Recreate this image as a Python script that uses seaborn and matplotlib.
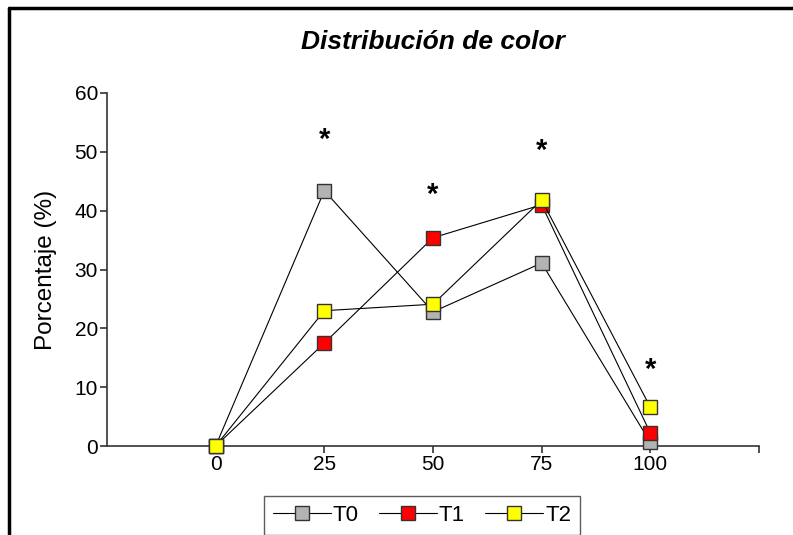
import numpy as np
import pandas as pd
import matplotlib
matplotlib.use("Agg")
import matplotlib.pyplot as plt
from matplotlib.lines import Line2D
import seaborn as sns

# Data
color_level = [0, 25, 50, 75, 100]
t0 = [0.0, 43.4, 22.8, 31.1, 0.6]
t1 = [0.0, 17.5, 35.4, 41.0, 2.2]
t2 = [0.0, 23.0, 24.1, 41.8, 6.6]
series_names = ["T0", "T1", "T2"]
series_colors = ["#b3b3b3", "#ff0000", "#ffff00"]
star_x = [25, 50, 75, 100]
star_y = [52.0, 42.6, 50.1, 12.9]

df = pd.DataFrame({
    "color": color_level * 3,
    "pct": t0 + t1 + t2,
    "group": np.repeat(series_names, len(color_level)),
})

sns.set_style("ticks")
plt.rcParams['font.family'] = ['Liberation Sans', 'DejaVu Sans']
plt.rcParams['text.color'] = 'black'
plt.rcParams['xtick.labelcolor'] = 'black'
plt.rcParams['ytick.labelcolor'] = 'black'
plt.rcParams['axes.labelcolor'] = 'black'

fig = plt.figure(figsize=(7.93, 5.35), dpi=100)
ax = fig.add_axes([107 / 793, 1 - 446 / 535, (759 - 107) / 793, (446 - 93) / 535])

for name, col in zip(series_names, series_colors):
    sub = df[df["group"] == name]
    sns.lineplot(data=sub, x="color", y="pct", ax=ax, color="black", linewidth=0.8,
                 marker="s", markersize=9.5, markerfacecolor=col,
                 markeredgecolor="#333333", markeredgewidth=1.0,
                 label=name, clip_on=False, zorder=3)

for sx, sy in zip(star_x, star_y):
    ax.text(sx, sy, "*", ha="center", va="center", fontsize=21, fontweight="bold")

ax.set_xlim(-25, 125)
ax.set_ylim(0, 60)
ax.set_xticks([0, 25, 50, 75, 100, 125])
ax.set_xticklabels(["0", "25", "50", "75", "100", ""])
ax.set_yticks(range(0, 61, 10))
ax.tick_params(axis="both", labelsize=15, length=5, width=1.2, color="#333333", pad=1.5)
for side in ["top", "right"]:
    ax.spines[side].set_visible(False)
for side in ["left", "bottom"]:
    ax.spines[side].set_color("#333333")
    ax.spines[side].set_linewidth(1.2)

ax.set_xlabel("")
ax.set_ylabel("Porcentaje (%)", fontsize=17.5, labelpad=13)
ax.set_title("Distribución de color", fontsize=19, fontweight="bold", style="italic", pad=32)

leg = ax.legend(loc="upper left", bbox_to_anchor=(264 / 793, 1 - 496 / 535),
                bbox_transform=fig.transFigure, ncol=3, fontsize=16, frameon=True,
                fancybox=False, handlelength=2.6, handletextpad=0.1, columnspacing=0.9,
                borderpad=0.4, borderaxespad=0)
leg.get_frame().set_edgecolor("#333333")
leg.get_frame().set_linewidth(1.0)

# border of the cropped frame: top and left lines
fig.add_artist(Line2D([9 / 793, 1], [1 - 8 / 535, 1 - 8 / 535], transform=fig.transFigure,
                      color="black", linewidth=2.5))
fig.add_artist(Line2D([9 / 793, 9 / 793], [0, 1 - 8 / 535], transform=fig.transFigure,
                      color="black", linewidth=2.5))

fig.savefig("out.png", dpi=100)
